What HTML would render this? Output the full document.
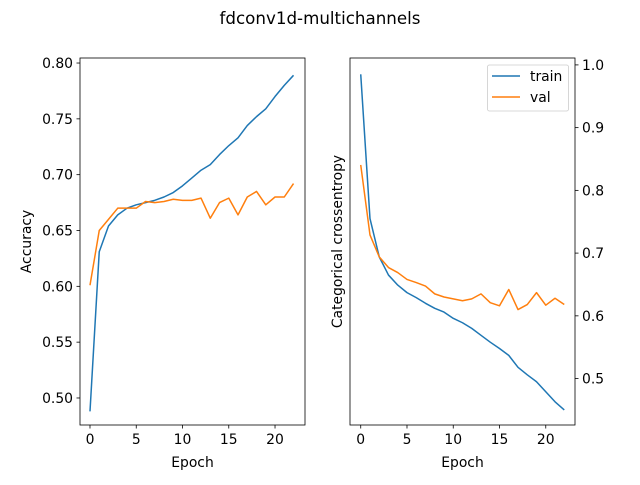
<!DOCTYPE html>
<html><head><meta charset="utf-8"><style>
body{margin:0;background:#fff;}
svg text{font-family:"DejaVu Sans","Liberation Sans",sans-serif;fill:#000;}
</style></head><body>
<svg id="chart" width="640" height="480" viewBox="0 0 640 480">
<text x="320" y="24" font-size="16.7" text-anchor="middle">fdconv1d-multichannels</text>
<g id="left"></g>
<g id="right"></g>
</svg>
<script>
const epochs = [0,1,2,3,4,5,6,7,8,9,10,11,12,13,14,15,16,17,18,19,20,21,22];
const accTrain = [0.488,0.631,0.654,0.664,0.670,0.673,0.675,0.677,0.680,0.684,0.690,0.697,0.704,0.709,0.718,0.726,0.733,0.744,0.752,0.759,0.770,0.780,0.789];
const accVal = [0.601,0.650,0.660,0.670,0.670,0.670,0.676,0.675,0.676,0.678,0.677,0.677,0.679,0.661,0.675,0.679,0.664,0.680,0.685,0.673,0.680,0.680,0.692];
const lossTrain = [0.985,0.755,0.694,0.665,0.649,0.637,0.629,0.620,0.612,0.606,0.596,0.589,0.580,0.569,0.558,0.548,0.537,0.518,0.506,0.495,0.479,0.463,0.450];
const lossVal = [0.8405,0.729,0.694,0.677,0.669,0.658,0.653,0.6475,0.635,0.630,0.627,0.624,0.627,0.635,0.621,0.616,0.642,0.610,0.618,0.637,0.617,0.628,0.618];
const xTicks = [0,5,10,15,20];
const accTicks = ["0.50","0.55","0.60","0.65","0.70","0.75","0.80"];
const lossTicks = ["0.5","0.6","0.7","0.8","0.9","1.0"];

const NS="http://www.w3.org/2000/svg";
function mk(parent,tag,attrs,text){const e=document.createElementNS(NS,tag);for(const k in attrs)e.setAttribute(k,attrs[k]);if(text!==undefined)e.textContent=text;parent.appendChild(e);return e;}

function panel(g,L,R,T,B,xmin,xmax,ymin,ymax,yTicks,side,ylabel,series){
  const sx=v=>L+(v-xmin)/(xmax-xmin)*(R-L);
  const sy=v=>B-(v-ymin)/(ymax-ymin)*(B-T);
  series.forEach(s=>{
    const p=mk(g,'polyline',{points:s.data.map((v,i)=>sx(epochs[i])+','+sy(v)).join(' '),fill:'none',stroke:s.color,'stroke-width':1.5,'stroke-linejoin':'round'});
    
    
  });
  const fr=mk(g,'rect',{x:L,y:T,width:R-L,height:B-T,fill:'none',stroke:'#000','stroke-width':0.8});
  
  
  xTicks.forEach(t=>{
    const x=sx(t);
    mk(g,'line',{x1:x,x2:x,y1:B,y2:B+3.5,stroke:'#000','stroke-width':0.8});
    const tl=mk(g,'text',{x:x,y:B+19,'font-size':13.9,'text-anchor':'middle'},String(t));
    
    
  });
  yTicks.forEach(t=>{
    const y=sy(parseFloat(t));
    if(side==='left'){
      mk(g,'line',{x1:L-3.5,x2:L,y1:y,y2:y,stroke:'#000','stroke-width':0.8});
      const tl=mk(g,'text',{x:L-7,y:y+5,'font-size':13.9,'text-anchor':'end'},t);
      
      
    } else {
      mk(g,'line',{x1:R,x2:R+3.5,y1:y,y2:y,stroke:'#000','stroke-width':0.8});
      const tl=mk(g,'text',{x:R+7,y:y+5,'font-size':13.9,'text-anchor':'start'},t);
      
      
    }
  });
  const xl=mk(g,'text',{x:(L+R)/2,y:B+42,'font-size':13.9,'text-anchor':'middle'},'Epoch');
  
  
  const lx=side==='left'?L-49:L-8;
  const yl=mk(g,'text',{x:lx,y:(T+B)/2,'font-size':13.9,'text-anchor':'middle',transform:`rotate(-90 ${lx} ${(T+B)/2})`},ylabel);
  
  
}
const blue='#1f77b4',orange='#ff7f0e';
panel(document.getElementById('left'),80,305,58,425,-1.08,23.24,0.4758,0.8045,accTicks,'left','Accuracy',
  [{data:accTrain,color:blue,name:'acc-train-line'},{data:accVal,color:orange,name:'acc-val-line'}]);
panel(document.getElementById('right'),350,575,58,425,-1.16,23.16,0.426,1.011,lossTicks,'right','Categorical crossentropy',
  [{data:lossTrain,color:blue,name:'loss-train-line'},{data:lossVal,color:orange,name:'loss-val-line'}]);
// legend
const rg=document.getElementById('right');
const lg=mk(rg,'g',{});


mk(lg,'rect',{x:487.5,y:65,width:81,height:46,rx:2,fill:'#fff',stroke:'#ccc','stroke-width':0.8});
[['train',blue,76],['val',orange,97]].forEach(([n,c,y])=>{
  const en=mk(lg,'g',{});
  
  
  mk(en,'line',{x1:492,x2:520,y1:y,y2:y,stroke:c,'stroke-width':1.5});
  mk(en,'text',{x:530,y:y+5,'font-size':13.9},n);
});
</script>
</body></html>
